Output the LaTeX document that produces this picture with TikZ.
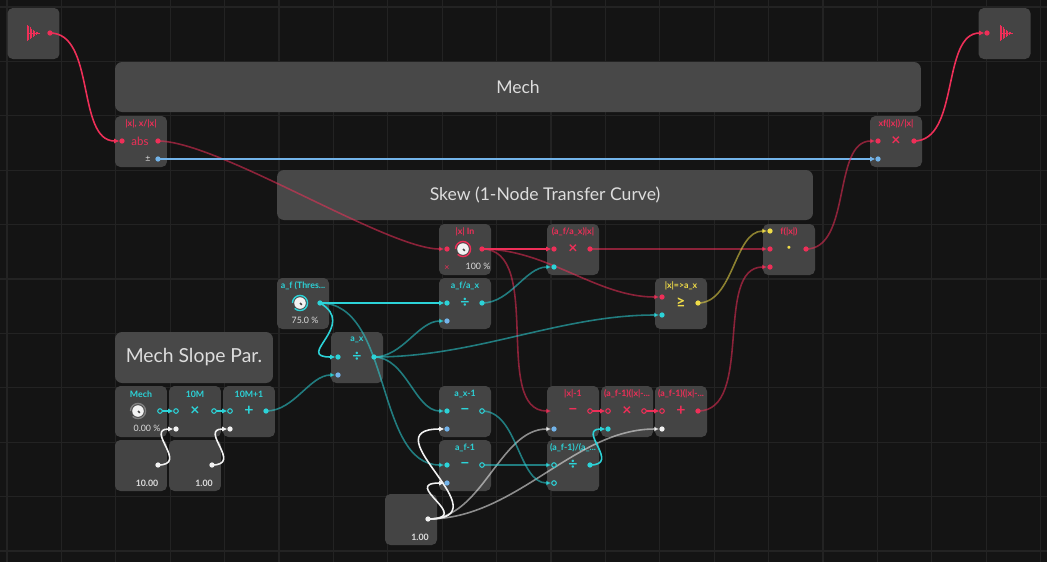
\documentclass[tikz,border=0pt]{standalone}
\usepackage{fontspec}
\setmainfont{Lato}
\usetikzlibrary{positioning,arrows.meta}
\definecolor{bgc}{HTML}{141414}
\definecolor{gridc}{HTML}{232323}
\definecolor{blkc}{HTML}{444444}
\definecolor{cmtc}{HTML}{484848}
\definecolor{cr}{HTML}{EE2F58}
\definecolor{cc}{HTML}{2CD3D8}
\definecolor{cb}{HTML}{73B4EA}
\definecolor{cy}{HTML}{F0DC48}
\definecolor{cw}{HTML}{F2F2F2}
\definecolor{txt}{HTML}{DDDDDD}
\tikzset{
  blk/.style={fill=blkc,rounded corners=3pt,minimum width=1.04cm,minimum height=1.02cm,inner sep=0pt},
  cmt/.style={fill=cmtc,rounded corners=4pt,inner sep=0pt,text=txt,font=\fontsize{10}{12}\selectfont},
  ttl/.style={font=\fontsize{5}{6}\selectfont\bfseries,inner sep=0pt},
  sym/.style={font=\fontsize{9}{10}\selectfont\bfseries,inner sep=0pt},
  val/.style={font=\fontsize{5}{6}\selectfont,inner sep=0pt,text=txt},
  wire/.style={#1,line width=0.9pt,out=0,in=180,looseness=0.9,shorten >=1.5pt,-{Latex[length=3pt,width=3pt]}},
  dim/.style={draw opacity=0.55},
  hol/.style={draw=#1,fill=blkc,line width=0.6pt}
}
\newcommand\pdot[2]{\fill[#1] (#2) circle (1.5pt);}
\newcommand\phol[2]{\filldraw[hol=#1] (#2) circle (1.3pt);}
\newcommand\knob[2]{\draw[#2,line width=0.8pt] (#1) ++(-135:4.3pt) arc (-135:180:4.3pt); \fill[cw] (#1) circle (3.3pt); \draw[blkc,line width=0.9pt] (#1) -- ++(1.8,1.8);}
\newcommand\wave[1]{\foreach \k/\h in {0/8,1.5/7,3/6,4.5/4.5,6/3.5,7.5/2.5,9/1.5,10.5/1}{\draw[cr,line width=0.4pt] ($(#1)+(\k,-\h)$) -- ($(#1)+(\k,\h)$);} \draw[cr,line width=0.4pt] (#1) -- ++(13,0);}
\usetikzlibrary{calc}
\begin{document}
\begin{tikzpicture}[x=0.02cm,y=-0.02cm]
\fill[bgc] (0,0) rectangle (1047,562);
\useasboundingbox (0,0) rectangle (1047,562);
\foreach \i in {0,...,19} {
  \draw[gridc,line width=0.6pt] (7+\i*54.4,0) -- (7+\i*54.4,562);
}
\foreach \j in {0,...,10} {
  \draw[gridc,line width=0.6pt] (0,7+\j*54.4) -- (1047,7+\j*54.4);
}
% comments
\node[cmt,minimum width=16.12cm,minimum height=1cm] (mech) at (518,87) {Mech};
\node[cmt,minimum width=10.72cm,minimum height=1cm] (skew) at (545,195) {Skew (1-Node Transfer Curve)};
\node[cmt,minimum width=3.16cm,minimum height=1.02cm,font=\fontsize{11}{13}\selectfont] (slope) at (194,357.5) {Mech Slope Par.};
% blocks
\node[blk] (inb) at (33.5,33.5) {};
\node[blk] (outb) at (1004.5,33.5) {};
\node[blk] (absb) at (141,141.5) {};
\node[blk] (xfb) at (896,141.5) {};
\node[blk] (xin) at (465,249.5) {};
\node[blk] (scl) at (573,249.5) {};
\node[blk] (fx) at (789,249.5) {};
\node[blk] (afax) at (465,303.5) {};
\node[blk] (cmp) at (681,303.5) {};
\node[blk] (af) at (303,303.5) {};
\node[blk] (ax) at (357,357.5) {};
\node[blk] (mk) at (141,411.5) {};
\node[blk] (tm) at (195,411.5) {};
\node[blk] (tmp) at (249,411.5) {};
\node[blk] (cten) at (141,465.5) {};
\node[blk] (cone) at (195,465.5) {};
\node[blk] (axm) at (465,411.5) {};
\node[blk] (afm) at (465,465.5) {};
\node[blk] (cone2) at (411,519.5) {};
\node[blk] (xm) at (573,411.5) {};
\node[blk] (mul) at (627,411.5) {};
\node[blk] (add) at (681,411.5) {};
\node[blk] (dv) at (573,465.5) {};
% titles
\node[ttl,text=cr] at (141,124) {|x|, x/|x|};
\node[ttl,text=cr] at (896,124) {xf(|x|)/|x|};
\node[ttl,text=cr] at (465,232) {|x| In};
\node[ttl,text=cr] at (573,232) {(a\_f/a\_x)|x|};
\node[ttl,text=cr] at (789,232) {f(|x|)};
\node[ttl,text=cc] at (465,286) {a\_f/a\_x};
\node[ttl,text=cy] at (681,286) {|x|=>a\_x};
\node[ttl,text=cc] at (303,286) {a\_f (Thres...};
\node[ttl,text=cc] at (357,340) {a\_x};
\node[ttl,text=cc] at (141,394) {Mech};
\node[ttl,text=cc] at (195,394) {10M};
\node[ttl,text=cc] at (249,394) {10M+1};
\node[ttl,text=cc] at (465,394) {a\_x-1};
\node[ttl,text=cc] at (465,448) {a\_f-1};
\node[ttl,text=cr] at (573,394) {|x|-1};
\node[ttl,text=cr] at (627,394) {(a\_f-1)(|x|-...};
\node[ttl,text=cr] at (681,394) {(a\_f-1)(|x|-...};
\node[ttl,text=cc] at (573,448) {(a\_f-1)/(a\_...};
% symbols and values
\wave{27,33}
\wave{1000,33}
\node[ttl,text=cr,font=\fontsize{6.5}{7}\selectfont] at (140,141) {abs};
\node[val] at (148,159) {±};
\node[sym,text=cr] at (896,141) {×};
\node[sym,text=cr] at (573,249) {×};
\node[sym,text=cy] at (789,249) {·};
\node[sym,text=cc] at (465,303) {÷};
\node[sym,text=cy] at (681,303) {≥};
\node[sym,text=cc] at (357,357) {÷};
\node[sym,text=cc] at (195,411) {×};
\node[sym,text=cc] at (249,411) {+};
\node[sym,text=cc] at (465,411) {−};
\node[sym,text=cc] at (465,465) {−};
\node[sym,text=cr] at (573,411) {−};
\node[sym,text=cr] at (627,411) {×};
\node[sym,text=cr] at (681,411) {+};
\node[sym,text=cc] at (573,465) {÷};
\node[val] at (478,266) {100 \%};
\node[val,text=cr] at (447,268) {×};
\node[val] at (305,320) {75.0 \%};
\node[val] at (147,428) {0.00 \%};
\node[val,font=\fontsize{5}{6}\selectfont\bfseries] at (147,483) {10.00};
\node[val,font=\fontsize{5}{6}\selectfont\bfseries] at (204,483) {1.00};
\node[val,font=\fontsize{5}{6}\selectfont\bfseries] at (420,537) {1.00};
\knob{463,249}{cr}
\knob{300,303}{cc}
\knob{138,411}{gray}
% ports
\coordinate (in-o) at (50,33);   \coordinate (out-i) at (987,33);
\coordinate (abs-i) at (122,141); \coordinate (abs-o) at (158,141); \coordinate (abs-s) at (158,159);
\coordinate (xf-i1) at (878,141); \coordinate (xf-i2) at (878,159); \coordinate (xf-o) at (914,141);
\coordinate (xin-i) at (447,249); \coordinate (xin-o) at (482,249);
\coordinate (scl-i1) at (554,249); \coordinate (scl-i2) at (554,267); \coordinate (scl-o) at (590,249);
\coordinate (fx-i1) at (770,231); \coordinate (fx-i2) at (770,249); \coordinate (fx-i3) at (770,267); \coordinate (fx-o) at (806,249);
\coordinate (afax-i1) at (447,303); \coordinate (afax-i2) at (447,321); \coordinate (afax-o) at (482,303);
\coordinate (cmp-i1) at (662,297); \coordinate (cmp-i2) at (662,315); \coordinate (cmp-o) at (698,303);
\coordinate (af-o) at (320,303);
\coordinate (ax-i1) at (338,357); \coordinate (ax-i2) at (338,375); \coordinate (ax-o) at (374,357);
\coordinate (mk-o) at (160,411);
\coordinate (tm-i1) at (176,411); \coordinate (tm-i2) at (176,429); \coordinate (tm-o) at (214,411);
\coordinate (tmp-i1) at (230,411); \coordinate (tmp-i2) at (230,429); \coordinate (tmp-o) at (266,411);
\coordinate (cten-o) at (158,465); \coordinate (cone-o) at (212,465); \coordinate (cone2-o) at (428,519);
\coordinate (axm-i1) at (447,411); \coordinate (axm-i2) at (447,429); \coordinate (axm-o) at (482,411);
\coordinate (afm-i1) at (447,465); \coordinate (afm-i2) at (447,483); \coordinate (afm-o) at (482,465);
\coordinate (xm-i1) at (554,411); \coordinate (xm-i2) at (554,429); \coordinate (xm-o) at (590,411);
\coordinate (mul-i1) at (608,411); \coordinate (mul-i2) at (608,429); \coordinate (mul-o) at (644,411);
\coordinate (add-i1) at (662,411); \coordinate (add-i2) at (662,429); \coordinate (add-o) at (698,411);
\coordinate (dv-i1) at (554,465); \coordinate (dv-i2) at (554,483); \coordinate (dv-o) at (590,465);
% wires
\draw[wire=cr] (in-o) to (abs-i);
\draw[wire=cr,dim] (abs-o) to[looseness=0.5] (xin-i);
\draw[wire=cb] (abs-s) to (xf-i2);
\draw[wire=cr] (xf-o) to (out-i);
\draw[wire=cr,dim] (fx-o) to (xf-i1);
\draw[wire=cr] (xin-o) to (scl-i1);
\draw[wire=cr,dim] (xin-o) to (cmp-i1);
\draw[wire=cr,dim] (xin-o) to (xm-i1);
\draw[wire=cr,dim] (scl-o) to (fx-i2);
\draw[wire=cc,dim] (afax-o) to (scl-i2);
\draw[wire=cy,dim] (cmp-o) to (fx-i1);
\draw[wire=cr,dim] (add-o) to (fx-i3);
\draw[wire=cc] (af-o) to (afax-i1);
\draw[wire=cc] (af-o) to[out=-30,in=180,looseness=2] (ax-i1);
\draw[wire=cc,dim] (af-o) to (afm-i1);
\draw[wire=cc,dim] (ax-o) to (afax-i2);
\draw[wire=cc,dim] (ax-o) to (cmp-i2);
\draw[wire=cc,dim] (ax-o) to (axm-i1);
\draw[wire=cc,dim] (tmp-o) to (ax-i2);
\draw[wire=cc] (mk-o) to (tm-i1);
\draw[wire=cc] (tm-o) to (tmp-i1);
\draw[wire=cw] (cten-o) to[looseness=2] (tm-i2);
\draw[wire=cw] (cone-o) to[looseness=2] (tmp-i2);
\draw[wire=cw] (cone2-o) to[looseness=2.2] (axm-i2);
\draw[wire=cw] (cone2-o) to[looseness=3] (afm-i2);
\draw[wire=cw,dim] (cone2-o) to (xm-i2);
\draw[wire=cw,dim] (cone2-o) to (add-i2);
\draw[wire=cc,dim] (axm-o) to (dv-i2);
\draw[wire=cc,dim] (afm-o) to (dv-i1);
\draw[wire=cc] (dv-o) to[looseness=2] (mul-i2);
\draw[wire=cr] (xm-o) to (mul-i1);
\draw[wire=cr] (mul-o) to (add-i1);
% port dots
\foreach \p in {in-o,abs-i,abs-o,xf-i1,xf-o,out-i,xin-i,xin-o,scl-i1,scl-o,fx-i2,fx-i3,fx-o,cmp-i1,add-o}{\pdot{cr}{\p}}
\foreach \p in {abs-s,xf-i2,afax-i2,ax-i2,axm-i2,afm-i2,xm-i2}{\pdot{cb}{\p}}
\foreach \p in {scl-i2,afax-i1,afax-o,cmp-i2,af-o,ax-i1,ax-o,tmp-o,axm-i1,afm-i1,dv-o,mul-i2}{\pdot{cc}{\p}}
\foreach \p in {fx-i1,cmp-o}{\pdot{cy}{\p}}
\foreach \p in {tm-i2,tmp-i2,cten-o,cone-o,cone2-o,add-i2}{\pdot{cw}{\p}}
\foreach \p in {mk-o,tm-i1,tm-o,tmp-i1,axm-o,afm-o,dv-i1,dv-i2}{\phol{cc}{\p}}
\foreach \p in {xm-o,mul-i1,mul-o,add-i1}{\phol{cr}{\p}}
\end{tikzpicture}
\end{document}
